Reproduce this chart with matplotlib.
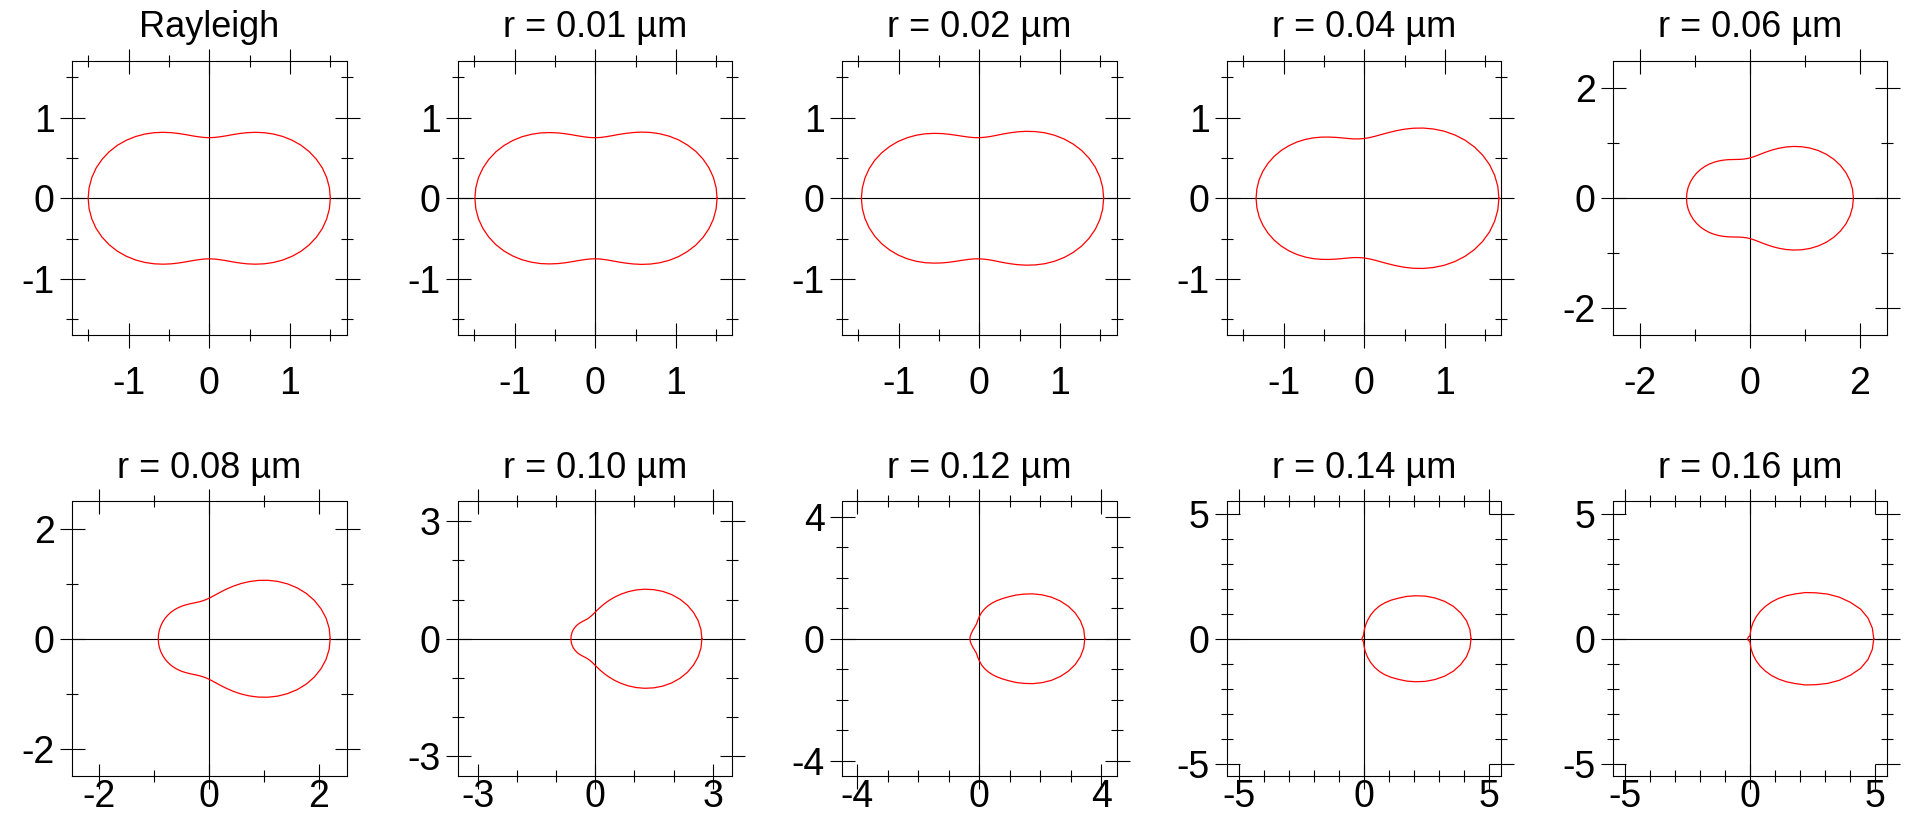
import numpy as np
import matplotlib
matplotlib.use("Agg")
import matplotlib.pyplot as plt
from matplotlib.ticker import MultipleLocator

plt.rcParams['font.family'] = ['Liberation Sans', 'DejaVu Sans']

# scattering angle (deg) for the upper half of each curve, mirrored below
theta = list(range(0, 181, 5))

titles = ['Rayleigh', 'r = 0.01 µm', 'r = 0.02 µm', 'r = 0.04 µm', 'r = 0.06 µm',
          'r = 0.08 µm', 'r = 0.10 µm', 'r = 0.12 µm', 'r = 0.14 µm', 'r = 0.16 µm']

# phase function values
p_rayleigh = [1.500, 1.494, 1.477, 1.450, 1.412, 1.366, 1.313, 1.253, 1.190, 1.125,
              1.060, 0.997, 0.938, 0.884, 0.838, 0.800, 0.773, 0.756, 0.750,
              0.756, 0.773, 0.800, 0.838, 0.884, 0.938, 0.997, 1.060, 1.125,
              1.190, 1.253, 1.313, 1.366, 1.412, 1.450, 1.477, 1.494, 1.500]
p_001 = [1.509, 1.503, 1.486, 1.458, 1.420, 1.374, 1.319, 1.260, 1.196, 1.130,
         1.064, 1.000, 0.940, 0.886, 0.840, 0.802, 0.774, 0.756, 0.750,
         0.755, 0.772, 0.799, 0.836, 0.882, 0.935, 0.993, 1.056, 1.120,
         1.185, 1.247, 1.306, 1.359, 1.404, 1.441, 1.469, 1.485, 1.491]
p_002 = [1.541, 1.535, 1.517, 1.488, 1.448, 1.400, 1.343, 1.281, 1.215, 1.147,
         1.078, 1.012, 0.950, 0.894, 0.846, 0.806, 0.776, 0.758, 0.750,
         0.754, 0.769, 0.795, 0.830, 0.874, 0.925, 0.981, 1.042, 1.104,
         1.166, 1.226, 1.282, 1.333, 1.377, 1.412, 1.438, 1.454, 1.460]
p_004 = [1.668, 1.661, 1.640, 1.607, 1.561, 1.505, 1.440, 1.368, 1.292, 1.213,
         1.135, 1.059, 0.987, 0.921, 0.864, 0.817, 0.780, 0.754, 0.740,
         0.738, 0.746, 0.766, 0.795, 0.832, 0.875, 0.924, 0.977, 1.031,
         1.085, 1.137, 1.186, 1.230, 1.268, 1.299, 1.322, 1.335, 1.340]
p_006 = [1.879, 1.870, 1.845, 1.804, 1.748, 1.680, 1.601, 1.514, 1.422, 1.327,
         1.232, 1.140, 1.053, 0.974, 0.904, 0.844, 0.796, 0.760, 0.736,
         0.724, 0.724, 0.733, 0.752, 0.778, 0.811, 0.848, 0.888, 0.929,
         0.971, 1.010, 1.047, 1.080, 1.108, 1.131, 1.148, 1.158, 1.161]
p_008 = [2.203, 2.193, 2.161, 2.108, 2.038, 1.952, 1.852, 1.742, 1.626, 1.506,
         1.387, 1.271, 1.162, 1.061, 0.971, 0.894, 0.829, 0.778, 0.740,
         0.715, 0.701, 0.697, 0.702, 0.714, 0.731, 0.752, 0.776, 0.800,
         0.824, 0.847, 0.867, 0.886, 0.901, 0.913, 0.922, 0.927, 0.929]
p_010 = [2.720, 2.706, 2.664, 2.594, 2.501, 2.385, 2.252, 2.105, 1.948, 1.787,
         1.625, 1.466, 1.314, 1.172, 1.043, 0.929, 0.830, 0.747, 0.680,
         0.628, 0.590, 0.564, 0.548, 0.541, 0.541, 0.546, 0.554, 0.563,
         0.574, 0.584, 0.593, 0.601, 0.608, 0.613, 0.617, 0.619, 0.620]
p_012 = [3.46, 3.44, 3.37, 3.26, 3.11, 2.93, 2.73, 2.51, 2.29, 2.07,
         1.87, 1.68, 1.52, 1.38, 1.25, 1.12, 0.99, 0.86, 0.72,
         0.60, 0.50, 0.45, 0.42, 0.39, 0.37, 0.355, 0.34, 0.33,
         0.32, 0.315, 0.31, 0.307, 0.305, 0.305, 0.305, 0.306, 0.306]
p_014 = [4.28, 4.25, 4.16, 4.00, 3.80, 3.55, 3.27, 2.98, 2.68, 2.40,
         2.12, 1.89, 1.67, 1.45, 1.22, 0.98, 0.74, 0.53, 0.34,
         0.22, 0.16, 0.13, 0.115, 0.105, 0.10, 0.10, 0.095, 0.095,
         0.09, 0.09, 0.09, 0.09, 0.09, 0.09, 0.09, 0.09, 0.09]
p_016 = [4.95, 4.91, 4.79, 4.58, 4.27, 3.94, 3.58, 3.21, 2.88, 2.54,
         2.25, 1.97, 1.70, 1.43, 1.17, 0.91, 0.66, 0.42, 0.21,
         0.13, 0.11, 0.10, 0.10, 0.10, 0.10, 0.10, 0.10, 0.10,
         0.10, 0.10, 0.10, 0.10, 0.10, 0.10, 0.10, 0.10, 0.10]

curves = [p_rayleigh, p_001, p_002, p_004, p_006,
          p_008, p_010, p_012, p_014, p_016]

# axis half-range, major and minor tick step
limits = [1.7, 1.7, 1.7, 1.7, 2.5, 2.5, 3.5, 4.5, 5.5, 5.5]
major = [1, 1, 1, 1, 2, 2, 3, 4, 5, 5]
minor = [0.5, 0.5, 0.5, 0.5, 1, 1, 1, 1, 1, 1]

W, H = 1906, 838
fig = plt.figure(figsize=(W / 100, H / 100), dpi=100)

lefts = [72, 458, 842, 1227, 1613]
tops = [61, 501.5]
box = 274.5
xpads = [13, -7]

fmt = plt.FuncFormatter(lambda v, pos: f'{v:g}')

for i, (p, title) in enumerate(zip(curves, titles)):
    row, col = divmod(i, 5)
    ax = fig.add_axes([lefts[col] / W, (H - tops[row] - box) / H, box / W, box / H])

    th = np.radians(theta)
    pp = np.array(p)
    # upper half then mirrored lower half
    th_full = np.concatenate([th, 2 * np.pi - th[::-1]])
    p_full = np.concatenate([pp, pp[::-1]])
    ax.plot(p_full * np.cos(th_full), p_full * np.sin(th_full), color='red', lw=0.9)

    ax.axhline(0, color='black', lw=0.8, zorder=1)
    ax.axvline(0, color='black', lw=0.8, zorder=1)

    L = limits[i]
    ax.set_xlim(-L, L)
    ax.set_ylim(-L, L)
    ax.xaxis.set_major_locator(MultipleLocator(major[i]))
    ax.yaxis.set_major_locator(MultipleLocator(major[i]))
    ax.xaxis.set_minor_locator(MultipleLocator(minor[i]))
    ax.yaxis.set_minor_locator(MultipleLocator(minor[i]))
    ax.tick_params(which='both', direction='inout', top=True, right=True,
                   width=0.8, color='black')
    ax.tick_params(which='major', length=18, labelsize=27)
    ax.tick_params(which='minor', length=9)
    ax.tick_params(axis='x', which='major', pad=xpads[row])
    ax.tick_params(axis='y', which='major', pad=3.5)
    ax.xaxis.set_major_formatter(fmt)
    ax.yaxis.set_major_formatter(fmt)
    for s in ax.spines.values():
        s.set_linewidth(0.8)

    ax.set_title(title, fontsize=26, y=1.0, pad=17)

fig.savefig('out.png', dpi=100)
